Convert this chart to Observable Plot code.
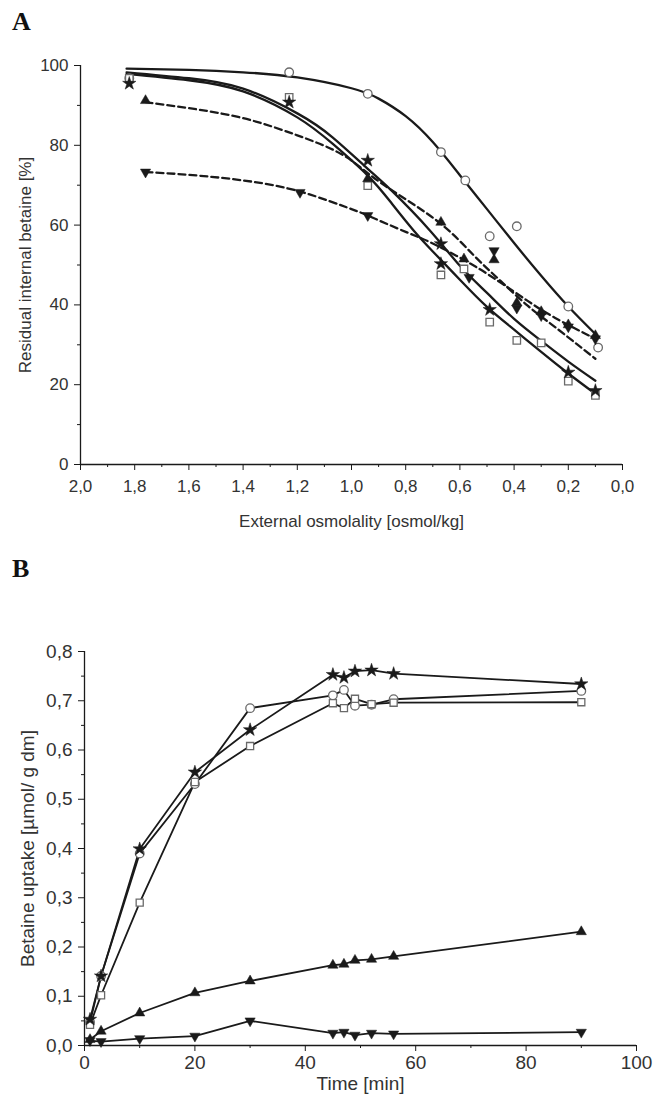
<!DOCTYPE html>
<html><head><meta charset="utf-8">
<script src="https://cdn.jsdelivr.net/npm/d3@7"></script>
<script src="https://cdn.jsdelivr.net/npm/@observablehq/plot@0.6"></script>
<style>
body{margin:0;background:#fff;}
#wrap{position:relative;width:654px;height:1099px;overflow:hidden;}
.panel{position:absolute;left:0;}
.lab{position:absolute;font-family:"Liberation Serif","DejaVu Serif",serif;font-weight:bold;font-size:26px;line-height:26px;color:#111;}
</style></head><body>
<div id="wrap">
<div id="pa" class="panel" style="top:0"></div>
<div id="pb" class="panel" style="top:560px"></div>
<div class="lab" style="left:12px;top:9px">A</div>
<div class="lab" style="left:12px;top:556px">B</div>
</div>
<script>
// ---------- Panel A : residual internal betaine vs external osmolality ----------
const aXTicks = [2.0, 1.8, 1.6, 1.4, 1.2, 1.0, 0.8, 0.6, 0.4, 0.2, 0.0];
const aXMinor = [1.9, 1.7, 1.5, 1.3, 1.1, 0.9, 0.7, 0.5, 0.3, 0.1];
const aYTicks = [0, 20, 40, 60, 80, 100];
const aYMinor = [10, 30, 50, 70, 90];

// measured points
const aCircleX = [1.82, 1.23, 0.94, 0.67, 0.58, 0.49, 0.39, 0.20, 0.09];
const aCircleY = [96.8, 98.3, 92.9, 78.3, 71.2, 57.2, 59.7, 39.6, 29.3];
const aSquareX = [1.82, 1.23, 0.94, 0.67, 0.585, 0.49, 0.39, 0.30, 0.20, 0.10];
const aSquareY = [96.8, 92.0, 69.9, 47.5, 49.0, 35.7, 31.1, 30.5, 20.9, 17.3];
const aStarX = [1.82, 1.23, 0.94, 0.67, 0.67, 0.49, 0.20, 0.10];
const aStarY = [95.5, 90.8, 76.2, 55.3, 50.3, 38.8, 23.1, 18.5];
const aTriUpX = [1.76, 0.94, 0.67, 0.585, 0.474, 0.39, 0.30, 0.20, 0.10];
const aTriUpY = [91.2, 71.6, 60.7, 51.5, 51.3, 40.5, 38.3, 35.0, 32.3];
const aTriDnX = [1.76, 1.19, 0.94, 0.566, 0.474, 0.39, 0.30, 0.20, 0.10];
const aTriDnY = [73.3, 68.2, 62.4, 46.9, 53.6, 39.2, 37.3, 34.5, 31.5];

// fitted curves
const fitCircleX = [1.83, 1.6, 1.4, 1.2, 1.0, 0.9, 0.8, 0.7, 0.6, 0.5, 0.4, 0.3, 0.2, 0.1];
const fitCircleY = [99.2, 98.9, 98.3, 97.0, 94.3, 91.7, 87.3, 80.8, 72.5, 64.0, 55.5, 47.3, 39.6, 32.7];
const fitSquareX = [1.83, 1.6, 1.4, 1.2, 1.07, 0.94, 0.85, 0.77, 0.7, 0.6, 0.5, 0.4, 0.3, 0.2, 0.1];
const fitSquareY = [97.9, 96.3, 93.5, 87.0, 80.4, 72.4, 65.3, 58.6, 53.4, 46.3, 39.5, 33.8, 28.2, 22.8, 17.7];
const fitStarX = [1.83, 1.6, 1.4, 1.2, 1.07, 0.94, 0.85, 0.71, 0.6, 0.5, 0.4, 0.3, 0.2, 0.1];
const fitStarY = [98.3, 96.8, 94.2, 88.0, 82.0, 74.1, 68.5, 58.6, 49.8, 43.0, 36.5, 31.0, 25.8, 21.0];
const fitTriUpX = [1.76, 1.6, 1.4, 1.2, 1.04, 0.94, 0.83, 0.67, 0.55, 0.45, 0.35, 0.25, 0.1];
const fitTriUpY = [90.8, 89.3, 86.8, 82.5, 77.9, 73.0, 67.8, 60.3, 52.5, 46.0, 39.8, 34.5, 26.5];
const fitTriDnX = [1.76, 1.6, 1.4, 1.19, 1.0, 0.94, 0.8, 0.7, 0.56, 0.45, 0.35, 0.25, 0.1];
const fitTriDnY = [73.3, 72.6, 71.2, 68.4, 64.0, 62.4, 58.3, 55.4, 50.3, 45.6, 41.0, 36.8, 31.5];

// ---------- Panel B : betaine uptake vs time ----------
const bXTicks = [0, 20, 40, 60, 80, 100];
const bXMinor = [10, 30, 50, 70, 90];
const bYTicks = [0, 0.1, 0.2, 0.3, 0.4, 0.5, 0.6, 0.7, 0.8];
const bYMinor = [0.05, 0.15, 0.25, 0.35, 0.45, 0.55, 0.65, 0.75];
const bTime = [1, 3, 10, 20, 30, 45, 47, 49, 52, 56, 90];
const bStar   = [0.053, 0.141, 0.399, 0.555, 0.641, 0.753, 0.747, 0.760, 0.762, 0.755, 0.734];
const bCircle = [0.047, 0.141, 0.390, 0.531, 0.685, 0.711, 0.722, 0.690, 0.692, 0.703, 0.720];
const bSquare = [0.042, 0.102, 0.290, 0.535, 0.608, 0.695, 0.685, 0.704, 0.693, 0.696, 0.697];
const bTriUp  = [0.012, 0.029, 0.066, 0.107, 0.131, 0.163, 0.165, 0.173, 0.175, 0.181, 0.231];
const bTriDn  = [0.010, 0.008, 0.014, 0.019, 0.050, 0.025, 0.027, 0.021, 0.025, 0.0235, 0.027];

// ---------- helpers ----------
const zip = (xs, ys) => xs.map((x, i) => ({x, y: ys[i]}));
const fmtC = d => d.toFixed(1).replace(".", ",");
const triDown = {
  draw(context, size) {
    const y = -Math.sqrt(size / (Math.sqrt(3) * 3));
    context.moveTo(0, -y * 2);
    context.lineTo(-Math.sqrt(3) * y, y);
    context.lineTo(Math.sqrt(3) * y, y);
    context.closePath();
  }
};
const FONT = "'Liberation Sans', Arial, sans-serif";
const INK = "#1a1a1a";
const TXT = "#333";
const OPEN = "#6a6a6a";

function openDots(data, symbol, r) {
  return Plot.dot(data, {x: "x", y: "y", symbol, r, fill: "white", stroke: OPEN, strokeWidth: 1.3});
}
function filledDots(data, symbol, r) {
  return Plot.dot(data, {x: "x", y: "y", symbol, r, fill: INK, stroke: INK, strokeWidth: 0.5});
}

// ---------- Plot A ----------
const plotA = Plot.plot({
  width: 654, height: 540,
  marginTop: 65, marginBottom: 76, marginLeft: 80, marginRight: 32,
  x: {domain: [2, 0]},
  y: {domain: [0, 100]},
  style: {fontFamily: FONT, color: TXT, background: "white", overflow: "visible"},
  marks: [
    Plot.ruleY([0], {stroke: INK, strokeWidth: 1.3}),
    Plot.ruleX([2], {stroke: INK, strokeWidth: 1.3}),
    Plot.axisX(aXTicks, {tickFormat: fmtC, tickSize: 6, tickPadding: 9, fontSize: 17, stroke: INK,
      label: "External osmolality [osmol/kg]", labelAnchor: "center", labelOffset: 62, labelArrow: "none"}),
    Plot.axisX(aXMinor, {tickSize: 3, tickFormat: () => "", label: null, stroke: INK}),
    Plot.axisY(aYTicks, {tickSize: 6, tickPadding: 6, fontSize: 17, stroke: INK,
      label: "Residual internal betaine [%]", labelAnchor: "center", labelOffset: 62, labelArrow: "none"}),
    Plot.axisY(aYMinor, {tickSize: 3, tickFormat: () => "", label: null, stroke: INK}),
    Plot.line(zip(fitCircleX, fitCircleY), {x: "x", y: "y", curve: "natural", stroke: INK, strokeWidth: 2.3}),
    Plot.line(zip(fitSquareX, fitSquareY), {x: "x", y: "y", curve: "natural", stroke: INK, strokeWidth: 2.3}),
    Plot.line(zip(fitStarX, fitStarY), {x: "x", y: "y", curve: "natural", stroke: INK, strokeWidth: 2.3}),
    Plot.line(zip(fitTriUpX, fitTriUpY), {x: "x", y: "y", curve: "natural", stroke: INK, strokeWidth: 2.3, strokeDasharray: "7,4"}),
    Plot.line(zip(fitTriDnX, fitTriDnY), {x: "x", y: "y", curve: "natural", stroke: INK, strokeWidth: 2.3, strokeDasharray: "7,4"}),
    openDots(zip(aCircleX, aCircleY), "circle", 4.3),
    openDots(zip(aSquareX, aSquareY), "square", 4.2),
    filledDots(zip(aTriUpX, aTriUpY), "triangle", 3.8),
    filledDots(zip(aTriDnX, aTriDnY), triDown, 3.8),
    filledDots(zip(aStarX, aStarY), "star", 4.2)
  ]
});
document.getElementById("pa").appendChild(plotA);

// ---------- Plot B ----------
const bSeries = [
  {v: bCircle, open: true, sym: "circle", r: 4.3},
  {v: bSquare, open: true, sym: "square", r: 4.0},
  {v: bStar, open: false, sym: "star", r: 4.2},
  {v: bTriUp, open: false, sym: "triangle", r: 3.8},
  {v: bTriDn, open: false, sym: triDown, r: 3.8}
];
const bLines = bSeries.map(s => Plot.line(zip(bTime, s.v), {x: "x", y: "y", stroke: INK, strokeWidth: 1.8}));
const bDots = bSeries.map(s => s.open ? openDots(zip(bTime, s.v), s.sym, s.r) : filledDots(zip(bTime, s.v), s.sym, s.r));

const plotB = Plot.plot({
  width: 654, height: 539,
  marginTop: 91, marginBottom: 54, marginLeft: 84, marginRight: 18,
  x: {domain: [0, 100]},
  y: {domain: [0, 0.8]},
  style: {fontFamily: FONT, color: TXT, background: "white", overflow: "visible"},
  marks: [
    Plot.ruleY([0], {stroke: INK, strokeWidth: 1.3}),
    Plot.ruleX([0], {stroke: INK, strokeWidth: 1.3}),
    Plot.axisX(bXTicks, {tickSize: 6, tickPadding: 4, fontSize: 19, stroke: INK,
      label: "Time [min]", labelAnchor: "center", labelOffset: 44, labelArrow: "none"}),
    Plot.axisX(bXMinor, {tickSize: 3, tickFormat: () => "", label: null, stroke: INK}),
    Plot.axisY(bYTicks, {tickFormat: fmtC, tickSize: 6, tickPadding: 6, fontSize: 19, stroke: INK,
      label: "Betaine uptake [µmol/ g dm]", labelAnchor: "center", labelOffset: 64, labelArrow: "none"}),
    Plot.axisY(bYMinor, {tickSize: 3, tickFormat: () => "", label: null, stroke: INK}),
    ...bLines,
    ...bDots
  ]
});
document.getElementById("pb").appendChild(plotB);
</script>
</body></html>
